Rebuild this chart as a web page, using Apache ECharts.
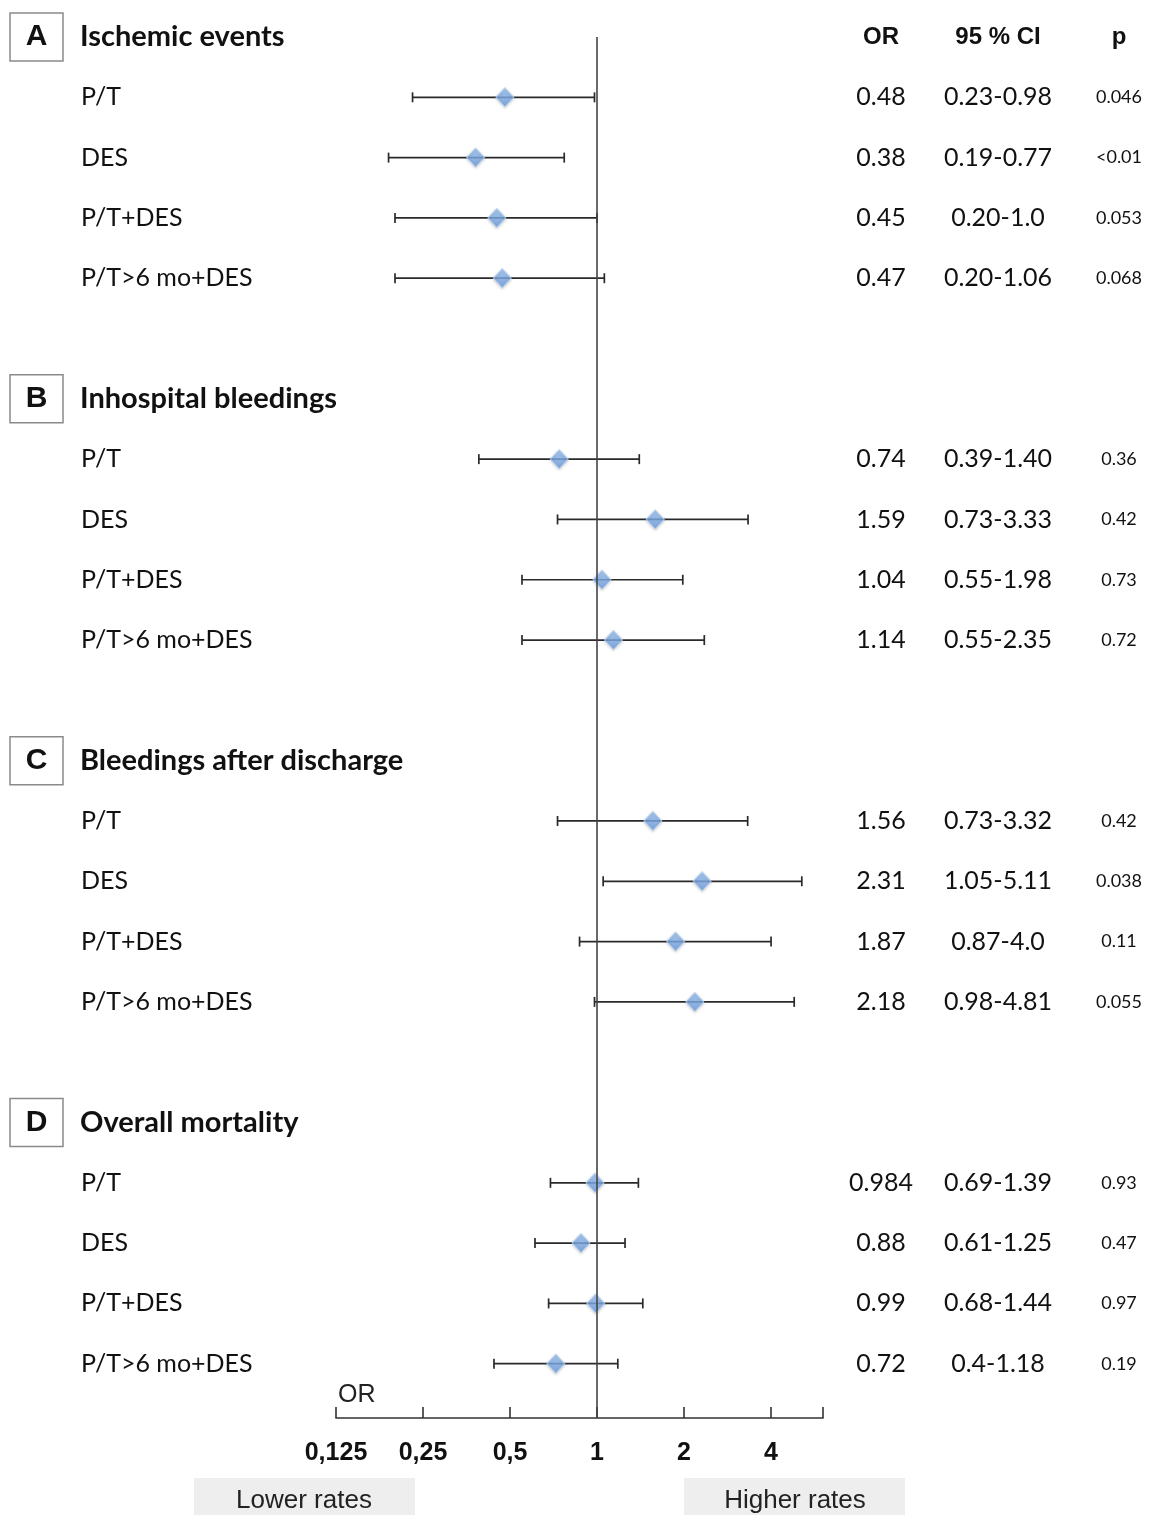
<!DOCTYPE html>
<html><head><meta charset="utf-8">
<script src="https://cdn.jsdelivr.net/npm/echarts@6/dist/echarts.min.js"></script>
<style>html,body{margin:0;padding:0;background:#fff}#c{width:1151px;height:1515px}</style>
</head><body><div id="c"></div>
<script>
// ---- data ----
const groupLetters = ['A', 'B', 'C', 'D'];
const groupTitles = ['Ischemic events', 'Inhospital bleedings', 'Bleedings after discharge', 'Overall mortality'];
const itemLabels = ['P/T', 'DES', 'P/T+DES', 'P/T>6 mo+DES'];
const orValues = [[0.48, 0.38, 0.45, 0.47], [0.74, 1.59, 1.04, 1.14], [1.56, 2.31, 1.87, 2.18], [0.984, 0.88, 0.99, 0.72]];
const ciLow = [[0.23, 0.19, 0.20, 0.20], [0.39, 0.73, 0.55, 0.55], [0.73, 1.05, 0.87, 0.98], [0.69, 0.61, 0.68, 0.44]];
const ciHigh = [[0.98, 0.77, 1.0, 1.06], [1.40, 3.33, 1.98, 2.35], [3.32, 5.11, 4.0, 4.81], [1.39, 1.25, 1.44, 1.18]];
const orText = [['0.48', '0.38', '0.45', '0.47'], ['0.74', '1.59', '1.04', '1.14'], ['1.56', '2.31', '1.87', '2.18'], ['0.984', '0.88', '0.99', '0.72']];
const ciText = [['0.23-0.98', '0.19-0.77', '0.20-1.0', '0.20-1.06'], ['0.39-1.40', '0.73-3.33', '0.55-1.98', '0.55-2.35'], ['0.73-3.32', '1.05-5.11', '0.87-4.0', '0.98-4.81'], ['0.69-1.39', '0.61-1.25', '0.68-1.44', '0.4-1.18']];
const pText = [['0.046', '<0.01', '0.053', '0.068'], ['0.36', '0.42', '0.73', '0.72'], ['0.42', '0.038', '0.11', '0.055'], ['0.93', '0.47', '0.97', '0.19']];
const columnHeaders = ['OR', '95 % CI', 'p'];
const tickValues = [0.125, 0.25, 0.5, 1, 2, 4];
const tickLabels = ['0,125', '0,25', '0,5', '1', '2', '4'];
const bottomLabels = ['Lower rates', 'Higher rates'];

// ---- layout helpers ----
const ROWS_PER_GROUP = 6;
function rowIndex(g, i) { return g * ROWS_PER_GROUP + 1 + i; }
function decode(v) {
  if (Math.abs(v - Math.round(v)) > 1e-6) return null;
  v = Math.round(v);
  const g = Math.floor(v / ROWS_PER_GROUP), r = v % ROWS_PER_GROUP;
  if (g >= groupLetters.length) return null;
  if (r === 0) return { g: g, header: true };
  if (r >= 1 && r <= 4) return { g: g, i: r - 1 };
  return null;
}

const barData = [], pointData = [];
for (let g = 0; g < groupLetters.length; g++) {
  for (let i = 0; i < itemLabels.length; i++) {
    barData.push([ciLow[g][i], ciHigh[g][i], rowIndex(g, i)]);
    pointData.push([orValues[g][i], rowIndex(g, i)]);
  }
}

const CAL = 'Lato, "Open Sans", sans-serif';
const ARIAL = '"Liberation Sans", Arial, sans-serif';

function yAxisBase(extra) {
  return Object.assign({
    type: 'value', min: 0, max: 22.9, interval: 1, inverse: true,
    axisLine: { show: false }, axisTick: { show: false }, splitLine: { show: false }
  }, extra);
}

function rightAxis(col, margin) {
  return yAxisBase({
    position: 'right',
    axisLabel: {
      margin: margin, align: 'center',
      formatter: function (v) {
        const d = decode(v);
        if (!d) return '';
        if (d.header) return d.g === 0 ? '{h|' + columnHeaders[col] + '}' : '';
        const t = col === 0 ? orText[d.g][d.i] : col === 1 ? ciText[d.g][d.i] : pText[d.g][d.i];
        return '{' + (col === 2 ? 'p' : 'v') + '|' + t + '}';
      },
      rich: {
        h: { fontFamily: ARIAL, fontWeight: 'bold', fontSize: 24, color: '#111' },
        v: { fontFamily: CAL, fontSize: 25, color: '#111' },
        p: { fontFamily: CAL, fontSize: 18, color: '#111' }
      }
    }
  });
}

const chart = echarts.init(document.getElementById('c'), null, { renderer: 'canvas' });
chart.setOption({
  backgroundColor: '#fff',
  animation: false,
  grid: { left: 336, right: 328, top: 37, bottom: 97 },
  xAxis: {
    type: 'log', logBase: 2, min: 0.125, max: 6.05, position: 'bottom',
    axisLine: { show: true, onZero: false, lineStyle: { color: '#333', width: 1.6 } },
    axisTick: { show: true, inside: true, length: 11, lineStyle: { color: '#333', width: 1.6 } },
    splitLine: { show: false },
    axisLabel: {
      margin: 23, fontFamily: ARIAL, fontWeight: 'bold', fontSize: 25, color: '#111',
      formatter: function (v) {
        for (let k = 0; k < tickValues.length; k++) {
          if (Math.abs(v - tickValues[k]) < 1e-6) return tickLabels[k];
        }
        return '';
      }
    }
  },
  yAxis: [
    yAxisBase({
      position: 'left',
      axisLabel: {
        margin: 326, align: 'left',
        formatter: function (v) {
          const d = decode(v);
          if (!d) return '';
          if (d.header) return '{box|' + groupLetters[d.g] + '}{gap|}{hdr|' + groupTitles[d.g] + '}';
          return '{sp|}{row|' + itemLabels[d.i] + '}';
        },
        rich: {
          box: { width: 53, height: 48, lineHeight: 48, align: 'center', borderColor: '#8a8a8a', borderWidth: 1.5,
                 fontFamily: ARIAL, fontWeight: 'bold', fontSize: 30, color: '#111' },
          gap: { width: 17 },
          hdr: { fontFamily: CAL, fontWeight: 'bold', fontSize: 29, color: '#111' },
          sp: { width: 71 },
          row: { fontFamily: CAL, fontSize: 25, color: '#111' }
        }
      }
    }),
    rightAxis(0, 58),
    rightAxis(1, 175),
    rightAxis(2, 296)
  ],
  series: [
    {
      type: 'custom',
      xAxisIndex: 0, yAxisIndex: 0,
      data: barData,
      encode: { x: [0, 1], y: 2 },
      renderItem: function (params, api) {
        const y = api.value(2);
        const a = api.coord([api.value(0), y]);
        const b = api.coord([api.value(1), y]);
        const st = { stroke: '#2a2a2a', lineWidth: 1.7 };
        const h = 5;
        return {
          type: 'group',
          children: [
            { type: 'line', shape: { x1: a[0], y1: a[1], x2: b[0], y2: b[1] }, style: st },
            { type: 'line', shape: { x1: a[0], y1: a[1] - h, x2: a[0], y2: a[1] + h }, style: st },
            { type: 'line', shape: { x1: b[0], y1: b[1] - h, x2: b[0], y2: b[1] + h }, style: st }
          ]
        };
      },
      markLine: {
        silent: true, symbol: 'none', label: { show: false },
        lineStyle: { color: '#444', width: 1.6, type: 'solid' },
        data: [{ xAxis: 1 }]
      },
      z: 2
    },
    {
      type: 'scatter',
      xAxisIndex: 0, yAxisIndex: 0,
      data: pointData,
      symbol: 'diamond',
      symbolSize: [18, 19],
      itemStyle: {
        color: new echarts.graphic.LinearGradient(0, 0, 0, 1, [
          { offset: 0, color: '#9ac2f2' }, { offset: 1, color: '#6496da' }
        ]),
        borderColor: '#b8d2f3', borderWidth: 1,
        shadowBlur: 3, shadowColor: 'rgba(0,0,0,0.2)', shadowOffsetY: 1
      },
      z: 3
    }
  ],
  graphic: [
    { type: 'text', left: 338, top: 1383, style: { text: 'OR', fontFamily: ARIAL, fontSize: 25, fill: '#222' } },
    { type: 'rect', left: 194, top: 1478, shape: { width: 221, height: 40 }, style: { fill: '#eeeeee' } },
    { type: 'rect', left: 684, top: 1478, shape: { width: 221, height: 40 }, style: { fill: '#eeeeee' } },
    { type: 'text', x: 304, y: 1501, style: { text: bottomLabels[0], fontFamily: ARIAL, fontSize: 26, fill: '#222', align: 'center', verticalAlign: 'middle' } },
    { type: 'text', x: 795, y: 1501, style: { text: bottomLabels[1], fontFamily: ARIAL, fontSize: 26, fill: '#222', align: 'center', verticalAlign: 'middle' } }
  ]
});
</script>
</body></html>
